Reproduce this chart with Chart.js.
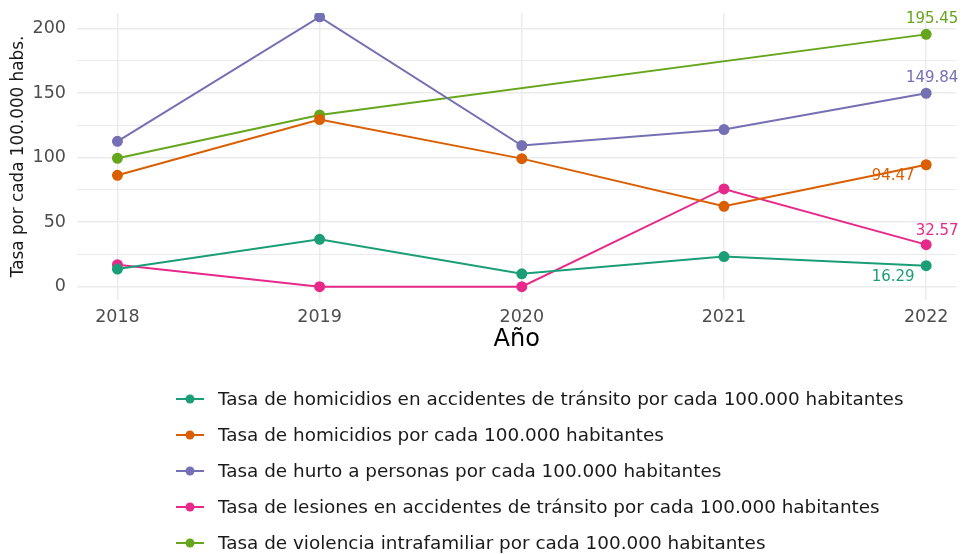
<!DOCTYPE html>
<html>
<head>
<meta charset="utf-8">
<script src="https://cdn.jsdelivr.net/npm/chart.js@4.4.0/dist/chart.umd.min.js"></script>
<style>
  html, body { margin: 0; padding: 0; background: #fff; }
</style>
</head>
<body>
<canvas id="grafico" width="963" height="554"></canvas>
<script>
// Datos
const anios = [2018, 2019, 2020, 2021, 2022];
const homicidiosTransito = [13.7, 36.7, 10.0, 23.3, 16.29];
const homicidios = [86.3, 129.5, 99.2, 62.3, 94.47];
const hurtoPersonas = [112.6, 209.0, 109.3, 121.7, 149.84];
const lesionesTransito = [17.0, 0, 0, 75.7, 32.57];
const violenciaIntrafamiliar = [99.5, 133.0, null, null, 195.45];

const etiquetas = [
  'Tasa de homicidios en accidentes de tránsito por cada 100.000 habitantes',
  'Tasa de homicidios por cada 100.000 habitantes',
  'Tasa de hurto a personas por cada 100.000 habitantes',
  'Tasa de lesiones en accidentes de tránsito por cada 100.000 habitantes',
  'Tasa de violencia intrafamiliar por cada 100.000 habitantes'
];
const series = [homicidiosTransito, homicidios, hurtoPersonas, lesionesTransito, violenciaIntrafamiliar];
const colores = ['#1B9E77', '#D95F02', '#7570B3', '#E7298A', '#66A61E'];
// desplazamiento de la etiqueta del último valor (px)
const desplazamientos = [[-33, 11], [-33, 11], [6, -15], [11, -14], [6, -15]];

const fuente = '"DejaVu Sans", Verdana, sans-serif';

// etiquetas con el valor de 2022
const etiquetasFinales = {
  id: 'etiquetasFinales',
  afterDatasetsDraw(chart) {
    const ctx = chart.ctx;
    ctx.save();
    ctx.font = '15px ' + fuente;
    ctx.textAlign = 'center';
    ctx.textBaseline = 'middle';
    chart.data.datasets.forEach((ds, i) => {
      const meta = chart.getDatasetMeta(i);
      const ultimo = meta.data[meta.data.length - 1];
      const valor = ds.data[ds.data.length - 1].y;
      ctx.fillStyle = ds.borderColor;
      ctx.fillText(valor.toFixed(2), ultimo.x + desplazamientos[i][0], ultimo.y + desplazamientos[i][1]);
    });
    ctx.restore();
  }
};

// leyenda vertical estilo ggplot
const leyenda = {
  id: 'leyenda',
  afterDraw(chart) {
    const ctx = chart.ctx;
    ctx.save();
    ctx.font = '18.4px ' + fuente;
    ctx.textAlign = 'left';
    ctx.textBaseline = 'middle';
    chart.data.datasets.forEach((ds, i) => {
      const y = chart.chartArea.bottom + 99 + i * 36;
      ctx.strokeStyle = ds.borderColor;
      ctx.fillStyle = ds.borderColor;
      ctx.lineWidth = 2;
      ctx.beginPath();
      ctx.moveTo(176, y);
      ctx.lineTo(204, y);
      ctx.stroke();
      ctx.beginPath();
      ctx.arc(190, y, 4.5, 0, Math.PI * 2);
      ctx.fill();
      ctx.fillStyle = '#1a1a1a';
      ctx.fillText(ds.label, 218, y + 1);
    });
    ctx.restore();
  }
};

new Chart(document.getElementById('grafico'), {
  type: 'line',
  data: {
    datasets: series.map((s, i) => ({
      label: etiquetas[i],
      data: anios.map((a, j) => ({ x: a, y: s[j] })),
      borderColor: colores[i],
      backgroundColor: colores[i],
      borderWidth: 2,
      pointRadius: 4.5,
      pointHoverRadius: 4.5,
      tension: 0,
      spanGaps: true
    }))
  },
  options: {
    responsive: false,
    animation: false,
    layout: { padding: { top: 13, left: 7, right: 0, bottom: 200 } },
    plugins: {
      legend: { display: false },
      tooltip: { enabled: false }
    },
    scales: {
      x: {
        type: 'linear',
        min: 2017.8,
        max: 2022.15,
        afterFit: s => { s.height = 54; },
        border: { display: false },
        grid: { color: '#ebebeb', lineWidth: 1.5, drawTicks: false },
        ticks: {
          stepSize: 1,
          includeBounds: false,
          padding: 7,
          color: '#4d4d4d',
          font: { family: fuente, size: 17.5 },
          callback: v => String(v)
        },
        title: {
          display: true,
          text: 'Año',
          color: '#000',
          font: { family: fuente, size: 24 },
          padding: { top: 0, bottom: 0 }
        }
      },
      y: {
        min: -10.3,
        max: 212,
        afterFit: s => { s.width = 70; s.paddingTop = 0; s.paddingBottom = 0; },
        border: { display: false },
        grid: {
          color: '#ebebeb',
          lineWidth: c => (c.tick && c.tick.value % 50 === 0 ? 1.5 : 1),
          drawTicks: false
        },
        ticks: {
          stepSize: 25,
          includeBounds: false,
          padding: 11,
          color: '#4d4d4d',
          font: { family: fuente, size: 17.5 },
          callback: v => (v % 50 === 0 ? String(v) : '')
        },
        title: {
          display: true,
          text: 'Tasa por cada 100.000 habs.',
          color: '#1a1a1a',
          font: { family: fuente, size: 16.8 },
          padding: { top: 2, bottom: 4 }
        }
      }
    }
  },
  plugins: [etiquetasFinales, leyenda]
});
</script>
</body>
</html>
